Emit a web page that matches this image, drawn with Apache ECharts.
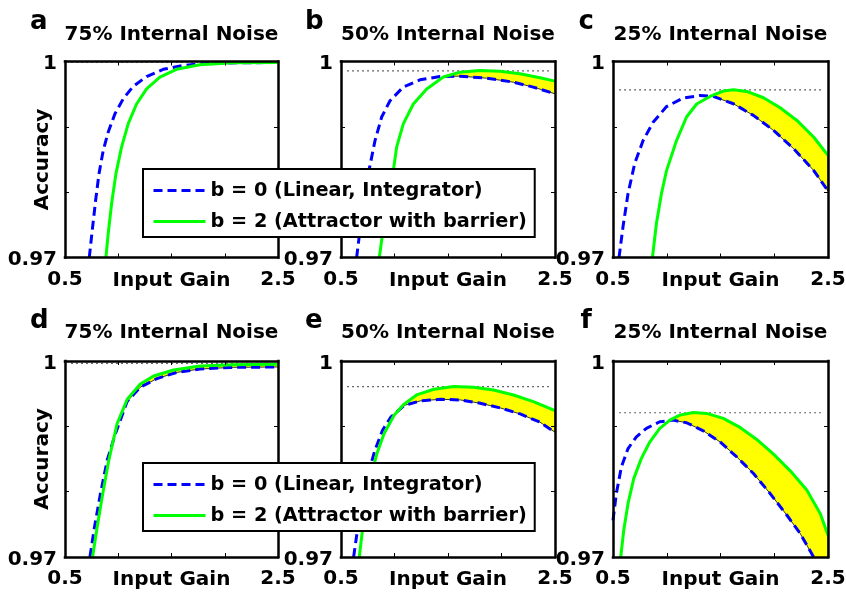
<!DOCTYPE html>
<html><head><meta charset="utf-8">
<script src="https://cdn.jsdelivr.net/npm/echarts@6/dist/echarts.min.js"></script>
<style>html,body{margin:0;padding:0;background:#fff}#c{width:846px;height:594px}</style>
</head><body><div id="c"></div>
<script>
// ---- text ----
const panelLetters = ['a','b','c','d','e','f'];
const noiseTitles = ['75% Internal Noise','50% Internal Noise','25% Internal Noise','75% Internal Noise','50% Internal Noise','25% Internal Noise'];
const seriesNames = ['b = 0 (Linear, Integrator)','b = 2 (Attractor with barrier)'];
const xLabel = 'Input Gain';
const yLabel = 'Accuracy';
const xTickValues = [0.5, 2.5];
const xTickLabels = ['0.5','2.5'];
const yTickValues = [0.97, 1];
const yTickLabels = ['0.97','1'];

// ---- data: [input gain, accuracy] ----
const blueA = [[0.728,0.97],[0.756,0.9742],[0.788,0.9788],[0.819,0.9828],[0.859,0.9864],[0.906,0.9892],[0.969,0.992],[1.047,0.9943],[1.141,0.9962],[1.266,0.9977],[1.422,0.9988],[1.609,0.9994],[1.859,0.99975],[2.5,0.99985]];
const greenA = [[0.884,0.97],[0.906,0.9737],[0.938,0.9783],[0.978,0.9828],[1.031,0.9869],[1.094,0.9905],[1.172,0.9935],[1.266,0.9958],[1.391,0.9976],[1.547,0.9988],[1.766,0.9995],[2.078,0.9998],[2.5,0.99985]];
const blueB = [[0.646,0.97],[0.68,0.9745],[0.72,0.9795],[0.755,0.9828],[0.818,0.9879],[0.88,0.9915],[0.958,0.994],[1.083,0.9961],[1.238,0.9972],[1.425,0.99771],[1.612,0.99776],[1.861,0.99745],[2.11,0.99684],[2.297,0.99608],[2.5,0.99506]];
const greenB = [[0.858,0.97],[0.9,0.975],[0.95,0.98],[0.989,0.9833],[1.02,0.9869],[1.083,0.9905],[1.176,0.9935],[1.301,0.9958],[1.456,0.99762],[1.612,0.99837],[1.799,0.99862],[1.986,0.99852],[2.173,0.99812],[2.36,0.9975],[2.5,0.997]];
const blueC = [[0.556,0.97],[0.593,0.9747],[0.64,0.9798],[0.702,0.9844],[0.78,0.9879],[0.873,0.9907],[0.998,0.9931],[1.153,0.9944],[1.309,0.9948],[1.433,0.99465],[1.62,0.99353],[1.806,0.99175],[1.993,0.98946],[2.18,0.98666],[2.366,0.98334],[2.5,0.98019]];
const greenC = [[0.867,0.97],[0.904,0.9752],[0.951,0.9798],[0.998,0.9833],[1.091,0.9879],[1.184,0.9915],[1.278,0.9935],[1.402,0.99465],[1.526,0.99547],[1.62,0.99567],[1.744,0.99542],[1.9,0.99445],[2.055,0.99292],[2.211,0.99098],[2.366,0.98844],[2.5,0.98564]];
const blueD = [[0.734,0.97],[0.777,0.9746],[0.833,0.9797],[0.896,0.9848],[0.974,0.9889],[1.083,0.9938],[1.207,0.996],[1.363,0.9973],[1.55,0.99826],[1.768,0.99877],[2.079,0.99903],[2.5,0.99908]];
const greenD = [[0.759,0.97],[0.802,0.9746],[0.849,0.9792],[0.911,0.9848],[0.989,0.9904],[1.083,0.9941],[1.207,0.99647],[1.332,0.9977],[1.519,0.99862],[1.768,0.99923],[2.079,0.99944],[2.5,0.99949]];
const blueE = [[0.618,0.97],[0.649,0.9736],[0.702,0.9787],[0.754,0.9827],[0.816,0.9863],[0.888,0.9894],[0.965,0.9914],[1.089,0.9932],[1.244,0.9939],[1.43,0.99414],[1.616,0.99404],[1.802,0.99353],[1.988,0.99282],[2.174,0.9919],[2.36,0.99063],[2.5,0.9891]];
const greenE = [[0.671,0.97],[0.711,0.9756],[0.764,0.9812],[0.835,0.9858],[0.903,0.9889],[0.996,0.9917],[1.089,0.9934],[1.213,0.99486],[1.368,0.99567],[1.554,0.99608],[1.74,0.99598],[1.926,0.99557],[2.112,0.9948],[2.298,0.99379],[2.5,0.99241]];
const blueF = [[0.5,0.9756],[0.531,0.9797],[0.578,0.9838],[0.64,0.9866],[0.718,0.9884],[0.811,0.9897],[0.935,0.9907],[1.06,0.99095],[1.184,0.99055],[1.34,0.98932],[1.495,0.98763],[1.651,0.98533],[1.807,0.98278],[1.962,0.97971],[2.118,0.97639],[2.242,0.97358],[2.366,0.97],[2.5,0.9662]];
const greenF = [[0.572,0.97],[0.6,0.9741],[0.64,0.9782],[0.693,0.982],[0.764,0.9851],[0.842,0.9876],[0.935,0.9897],[1.029,0.99095],[1.122,0.99172],[1.246,0.99213],[1.371,0.99198],[1.526,0.99121],[1.682,0.98983],[1.837,0.98799],[1.993,0.98574],[2.149,0.98319],[2.304,0.98022],[2.428,0.97664],[2.5,0.97332]];
const optimum = [0.9999, 0.99857, 0.99567, 0.99964, 0.99608, 0.99208];
const optimumSpan = [0.56, 2.44];
const crossing = [null, [1.47,0.99772], [1.40,0.99467], [1.0,0.9906], [0.98,0.9915], [1.05,0.991]];

const blue = [blueA, blueB, blueC, blueD, blueE, blueF];
const green = [greenA, greenB, greenC, greenD, greenE, greenF];

// ---- layout ----
const colLeft = [65, 341, 613], colWidth = [213, 214, 215];
const rowTop = [61.5, 361], rowHeight = 196;
const FONT = 'DejaVu Sans';
const BLUE = '#0000ff', GREEN = '#00ff00', YELLOW = '#ffff00';

function near(a, b) { return Math.abs(a - b) < 1e-6; }
function labelFor(vals, labels) {
  return v => { for (let k = 0; k < vals.length; k++) if (near(v, vals[k])) return labels[k]; return ''; };
}

const grids = [], xAxes = [], yAxes = [], series = [], graphics = [];
const axisLineStyle = { color: '#000', width: 2.5, cap: 'square' };
const tickStyle = { show: true, inside: true, length: 4, lineStyle: { color: '#000', width: 1 } };
const lblStyle = { color: '#000', fontFamily: FONT, fontWeight: 'bold', fontSize: 20 };

for (let i = 0; i < 6; i++) {
  const r = Math.floor(i / 3), c = i % 3;
  grids.push({ left: colLeft[c], top: rowTop[r], width: colWidth[c], height: rowHeight, containLabel: false, outerBoundsMode: 'none' });
  xAxes.push({ gridIndex: i, type: 'value', position: 'bottom', min: 0.5, max: 2.5, interval: 0.5, z: 10,
    axisLine: { show: true, onZero: false, lineStyle: axisLineStyle }, axisTick: tickStyle, splitLine: { show: false },
    axisLabel: Object.assign({ margin: 12, hideOverlap: false, formatter: labelFor(xTickValues, xTickLabels) }, lblStyle),
    name: xLabel, nameLocation: 'middle', nameGap: 13, nameMoveOverlap: false, nameTextStyle: Object.assign({ verticalAlign: 'top' }, lblStyle) });
  xAxes.push({ gridIndex: i, type: 'value', position: 'top', min: 0.5, max: 2.5, interval: 0.5, z: 10,
    axisLine: { show: true, onZero: false, lineStyle: axisLineStyle }, axisTick: tickStyle, splitLine: { show: false },
    axisLabel: { show: false } });
  const yl = { gridIndex: i, type: 'value', position: 'left', min: 0.97, max: 1, interval: 0.01, z: 10,
    axisLine: { show: true, onZero: false, lineStyle: axisLineStyle }, axisTick: tickStyle, splitLine: { show: false },
    axisLabel: Object.assign({ margin: 8, verticalAlign: 'top', lineHeight: 5, hideOverlap: false, formatter: labelFor(yTickValues, yTickLabels) }, lblStyle) };
  if (c === 0) { yl.name = yLabel; yl.nameLocation = 'middle'; yl.nameGap = 12; yl.nameMoveOverlap = false; yl.nameTextStyle = lblStyle; }
  yAxes.push(yl);
  yAxes.push({ gridIndex: i, type: 'value', position: 'right', min: 0.97, max: 1, interval: 0.01, z: 10,
    axisLine: { show: true, onZero: false, lineStyle: axisLineStyle }, axisTick: tickStyle, splitLine: { show: false },
    axisLabel: { show: false } });
  const xi = 2 * i, yi = 2 * i;
  if (crossing[i]) {
    series.push({ type: 'custom', xAxisIndex: xi, yAxisIndex: yi, clip: true, silent: true, z: 1,
      data: [crossing[i]],
      renderItem: (params, api) => {
        const cx = crossing[i][0];
        const upper = [crossing[i]].concat(green[i].filter(p => p[0] > cx));
        const lower = blue[i].filter(p => p[0] > cx).reverse();
        const pts = upper.concat(lower).map(p => api.coord(p));
        return { type: 'polygon', shape: { points: pts }, style: { fill: YELLOW, stroke: '#000', lineWidth: 0.8 } };
      } });
  }
  series.push({ type: 'line', xAxisIndex: xi, yAxisIndex: yi, symbol: 'none', silent: true, z: 2,
    data: [[optimumSpan[0], optimum[i]], [optimumSpan[1], optimum[i]]],
    lineStyle: { color: '#000', width: 1.2, type: [1.2, 3.8] } });
  series.push({ name: seriesNames[0], type: 'line', xAxisIndex: xi, yAxisIndex: yi, symbol: 'none', z: 3, clip: true,
    data: blue[i], lineStyle: { color: BLUE, width: 3, type: [9, 5] }, itemStyle: { color: BLUE } });
  series.push({ name: seriesNames[1], type: 'line', xAxisIndex: xi, yAxisIndex: yi, symbol: 'none', z: 4, clip: true,
    data: green[i], lineStyle: { color: GREEN, width: 3 }, itemStyle: { color: GREEN } });

  // panel letter and title
  const letterX = [30, 305, 578.5][c] + (i === 5 ? 2 : 0);
  const midY = [22.7, 321][r];
  graphics.push({ type: 'text', x: letterX, y: midY, style: { text: panelLetters[i], fill: '#000', font: 'bold 26px "' + FONT + '"', align: 'left', verticalAlign: 'middle' } });
  graphics.push({ type: 'text', x: colLeft[c] + colWidth[c] / 2, y: [34.3, 332.3][r], style: { text: noiseTitles[i], fill: '#000', font: 'bold 20px "' + FONT + '"', align: 'center', verticalAlign: 'middle' } });
}

const legendBase = { data: seriesNames, orient: 'vertical', left: 143, itemWidth: 52, itemHeight: 14, itemGap: 12,
  padding: [12, 8, 6, 9], borderColor: '#000', borderWidth: 2, backgroundColor: '#fff', selectedMode: false,
  itemStyle: { opacity: 0 }, lineStyle: { width: 3 },
  textStyle: { color: '#000', fontFamily: FONT, fontWeight: 'bold', fontSize: 19.3 }, z: 20 };

const chart = echarts.init(document.getElementById('c'), null, { renderer: 'canvas' });
chart.setOption({
  animation: false,
  backgroundColor: '#fff',
  grid: grids, xAxis: xAxes, yAxis: yAxes, series: series,
  legend: [Object.assign({ top: 169 }, legendBase), Object.assign({ top: 463 }, legendBase)],
  graphic: graphics
});
</script></body></html>
